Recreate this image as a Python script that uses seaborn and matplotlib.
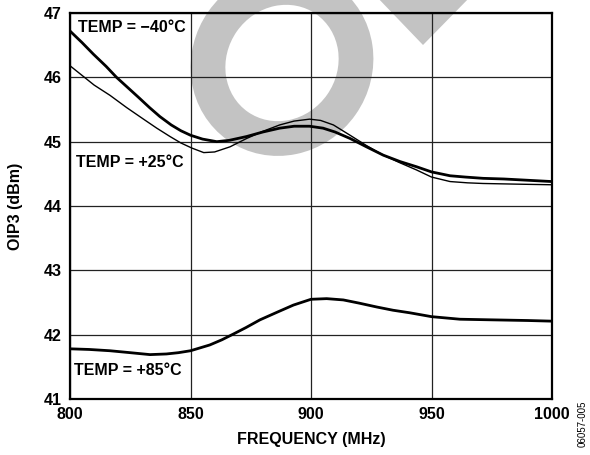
import numpy as np
import pandas as pd
import matplotlib
matplotlib.use('Agg')
import matplotlib.pyplot as plt
import matplotlib.patches as mpatches
from matplotlib.transforms import IdentityTransform
import seaborn as sns

# curve values
freq_m40 = [800, 805, 809.7, 815, 819.3, 824, 828.4, 833, 837.3, 842, 846, 850, 855, 860.9, 866,
            873.3, 880, 887, 893, 899.4, 905, 910, 916.2, 923, 930, 937, 943.8, 950, 957.7, 964,
            971.4, 980, 990, 1000]
oip3_m40 = [46.72, 46.54, 46.36, 46.17, 46.00, 45.84, 45.69, 45.53, 45.39, 45.26, 45.17, 45.10,
            45.04, 45.00, 45.02, 45.08, 45.15, 45.21, 45.24, 45.24, 45.21, 45.15, 45.05, 44.92,
            44.79, 44.69, 44.61, 44.53, 44.47, 44.45, 44.43, 44.42, 44.40, 44.38]

freq_p25 = [800, 806, 810, 816.6, 823.5, 830.5, 836, 841.5, 846, 850.6, 855.5, 860, 866.4, 873.3,
            880, 887, 893, 899.4, 904, 909.3, 916.2, 923, 930, 937, 943.8, 950, 957.7, 965, 971.4,
            985, 1000]
oip3_p25 = [46.18, 46.00, 45.88, 45.72, 45.53, 45.35, 45.21, 45.08, 44.98, 44.90, 44.83, 44.84,
            44.92, 45.05, 45.16, 45.26, 45.32, 45.35, 45.33, 45.26, 45.10, 44.94, 44.79, 44.67,
            44.56, 44.45, 44.38, 44.36, 44.35, 44.34, 44.33]

freq_p85 = [800, 808, 816.6, 825, 833.2, 840, 845, 850, 858, 863, 867.8, 873, 878.8, 886, 892.7,
            900, 906.5, 913.4, 920, 927.3, 934, 941, 950, 961.8, 975.6, 990, 1000]
oip3_p85 = [41.78, 41.77, 41.75, 41.72, 41.69, 41.70, 41.72, 41.75, 41.84, 41.92, 42.01, 42.11,
            42.23, 42.35, 42.46, 42.55, 42.56, 42.54, 42.49, 42.43, 42.38, 42.34, 42.28, 42.24,
            42.23, 42.22, 42.21]

x_ticks = [800, 850, 900, 950, 1000]
y_ticks = [41, 42, 43, 44, 45, 46, 47]

sns.set_style('white')
plt.rcParams['font.family'] = ['Liberation Sans', 'DejaVu Sans']
plt.rcParams.update({'text.color': 'black', 'axes.labelcolor': 'black',
                     'xtick.color': 'black', 'ytick.color': 'black'})

fig = plt.figure(figsize=(5.9, 4.55), dpi=100)
ax = fig.add_axes([70 / 590, 1 - 399 / 455, 482 / 590, 386 / 455])
ax.patch.set_alpha(0)

# grey watermark behind the chart (pixel coords, y from bottom)
ring = mpatches.Ellipse((282, 455 - 63), 145, 154, angle=-35, fill=False,
                        edgecolor='#c3c3c3', linewidth=25, transform=IdentityTransform(), zorder=-5)
tri = mpatches.Polygon([(375, 455 + 5), (472, 455 + 5), (423, 455 - 45)], closed=True,
                       facecolor='#c3c3c3', edgecolor='none', transform=IdentityTransform(), zorder=-5)
fig.patches.extend([ring, tri])

sns.lineplot(x=freq_m40, y=oip3_m40, ax=ax, color='black', lw=2.0, zorder=4)
sns.lineplot(x=freq_p25, y=oip3_p25, ax=ax, color='black', lw=1.0, zorder=4)
sns.lineplot(x=freq_p85, y=oip3_p85, ax=ax, color='black', lw=2.0, zorder=4)
for ln in ax.lines:
    ln.set_solid_joinstyle('round')
    ln.set_solid_capstyle('round')

ax.set_xlim(800, 1000)
ax.set_ylim(41, 47)
ax.set_xticks(x_ticks)
ax.set_yticks(y_ticks)
ax.grid(True, color='#222222', lw=0.9)
ax.tick_params(length=0, labelsize=11.5, pad=6)
for lab in ax.get_xticklabels() + ax.get_yticklabels():
    lab.set_fontweight('bold')
for s in ax.spines.values():
    s.set_visible(True)
    s.set_color('black')
    s.set_linewidth(1.6)

ax.set_xlabel('FREQUENCY (MHz)', fontsize=11.5, fontweight='bold', labelpad=7)
ax.set_ylabel('OIP3 (dBm)', fontsize=11.5, fontweight='bold', labelpad=15)

ann = dict(fontsize=11.5, fontweight='bold', va='center', ha='left', zorder=5)
ax.text(803.3, 46.77, 'TEMP = \u221240\u00b0C', **ann)
ax.text(802.5, 44.67, 'TEMP = +25\u00b0C', **ann)
ax.text(801.7, 41.44, 'TEMP = +85\u00b0C', **ann)

fig.text(583 / 590, 1 - 424 / 455, '06057-005', rotation=90, fontsize=7,
         ha='center', va='center')

fig.savefig('out.png', dpi=100)
